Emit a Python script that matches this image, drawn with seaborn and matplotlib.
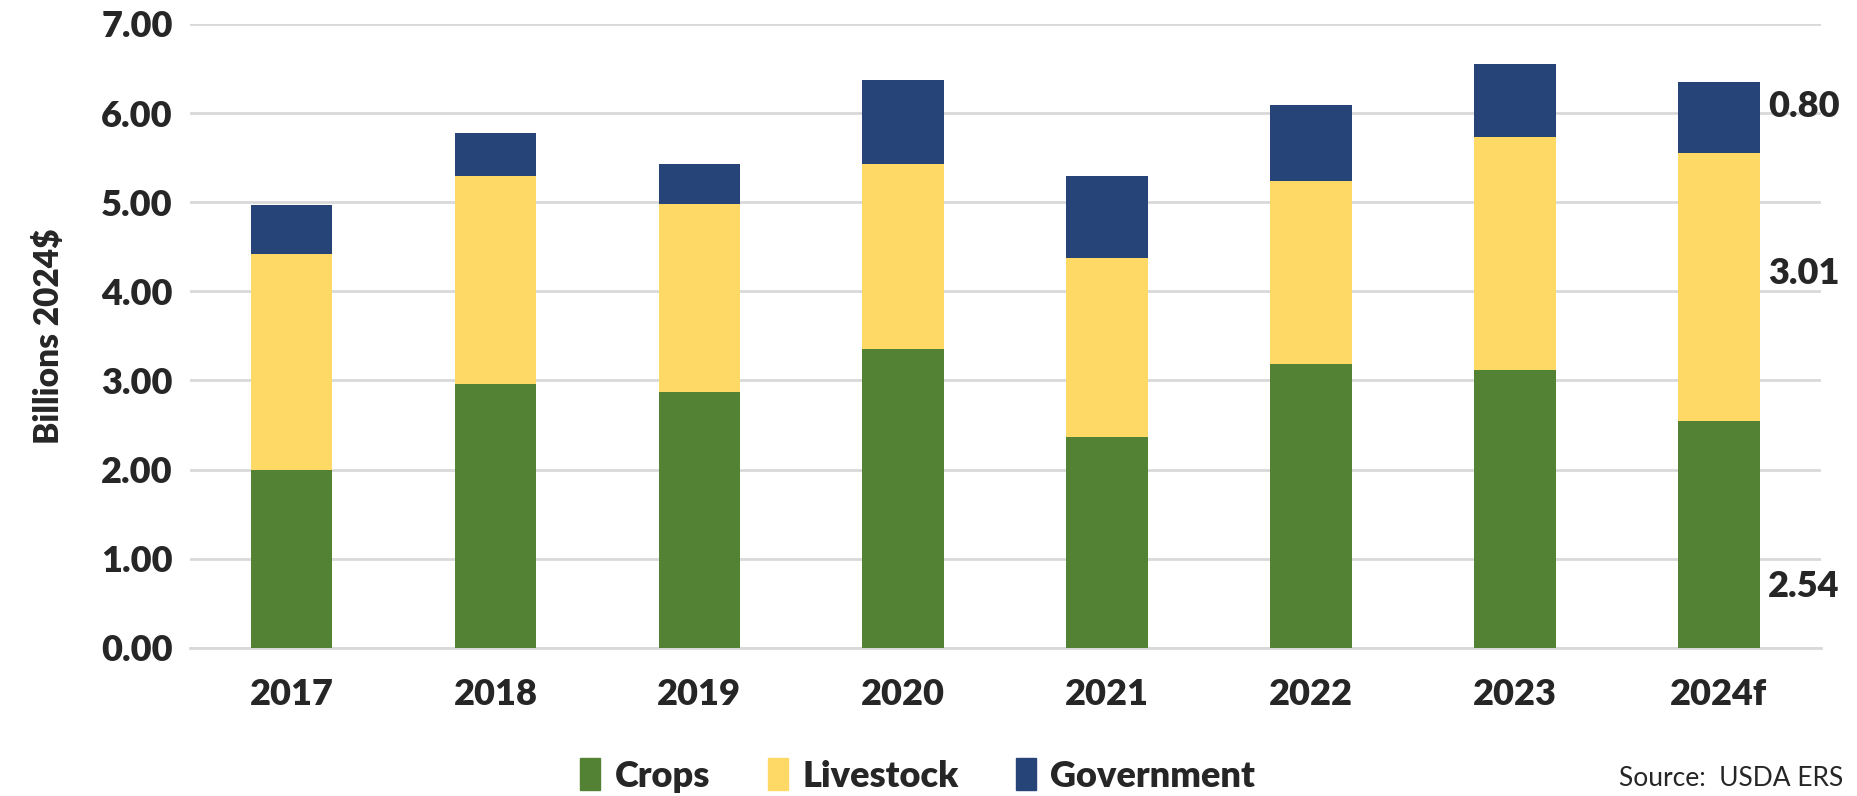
import matplotlib
matplotlib.use("Agg")
import matplotlib.pyplot as plt
import matplotlib.patches as mpatches
import numpy as np
import pandas as pd
import seaborn as sns

years = ["2017", "2018", "2019", "2020", "2021", "2022", "2023", "2024f"]
crops = [2.00, 2.96, 2.87, 3.35, 2.37, 3.19, 3.12, 2.54]
livestock = [2.42, 2.33, 2.115, 2.08, 2.00, 2.05, 2.61, 3.01]
government = [0.545, 0.49, 0.445, 0.94, 0.92, 0.85, 0.82, 0.80]

green = "#548235"
yellow = "#FFD966"
navy = "#264478"

sns.set_style("white")
plt.rcParams["font.family"] = ["Lato", "DejaVu Sans"]
W = "heavy"

df = pd.DataFrame({"year": years, "crops": crops,
                   "livestock": livestock, "government": government})
df["base2"] = df["crops"]
df["base3"] = df["crops"] + df["livestock"]

fig, ax = plt.subplots(figsize=(18.58, 7.96), dpi=100)
fig.subplots_adjust(left=0.102, right=0.980, top=0.970, bottom=0.186)

sns.barplot(data=df, x="year", y="crops", color=green, width=0.4,
            saturation=1, ax=ax, linewidth=0, zorder=3)
sns.barplot(data=df, x="year", y="livestock", color=yellow, width=0.4,
            saturation=1, ax=ax, bottom=df["base2"], linewidth=0, zorder=3)
sns.barplot(data=df, x="year", y="government", color=navy, width=0.4,
            saturation=1, ax=ax, bottom=df["base3"], linewidth=0, zorder=3)

ax.set_xlim(-0.5, 7.5)
ax.set_ylim(0, 7)
ax.set_yticks(np.arange(0, 7.01, 1))
ax.set_yticklabels([f"{v:.2f}" for v in np.arange(0, 7.01, 1)])
ax.yaxis.grid(True, color="#d9d9d9", linewidth=2, zorder=0)
ax.set_axisbelow(True)
for s in ["top", "right", "left"]:
    ax.spines[s].set_visible(False)
ax.spines["bottom"].set_color("#d9d9d9")
ax.spines["bottom"].set_linewidth(2)
ax.tick_params(axis="both", length=0, labelsize=26)
ax.tick_params(axis="x", pad=22)
ax.tick_params(axis="y", pad=12)
for lab in ax.get_xticklabels() + ax.get_yticklabels():
    lab.set_fontweight(W)
ax.set_xlabel("")
ax.set_ylabel("Billions 2024$", fontsize=24, fontweight=W, labelpad=26)

# labels for last bar
last = len(years) - 1
ax.text(last + 0.24, crops[last] * 0.27, f"{crops[last]:.2f}",
        fontsize=26, fontweight=W, va="center", ha="left")
ax.text(last + 0.24, crops[last] + livestock[last] * 0.55, f"{livestock[last]:.2f}",
        fontsize=26, fontweight=W, va="center", ha="left")
ax.text(last + 0.24, crops[last] + livestock[last] + government[last] * 0.65,
        f"{government[last]:.2f}",
        fontsize=26, fontweight=W, va="center", ha="left")

handles = [mpatches.Patch(color=green, label="Crops"),
           mpatches.Patch(color=yellow, label="Livestock"),
           mpatches.Patch(color=navy, label="Government")]
fig.legend(handles=handles, loc="center", bbox_to_anchor=(0.494, 0.026),
           ncol=3, frameon=False, prop={"size": 26, "weight": W},
           handlelength=0.55, handleheight=1.0, handletextpad=0.4,
           columnspacing=1.6)

fig.text(0.992, 0.022, "Source:  USDA ERS", ha="right", va="center", fontsize=19)

fig.savefig("out.png", dpi=100)
